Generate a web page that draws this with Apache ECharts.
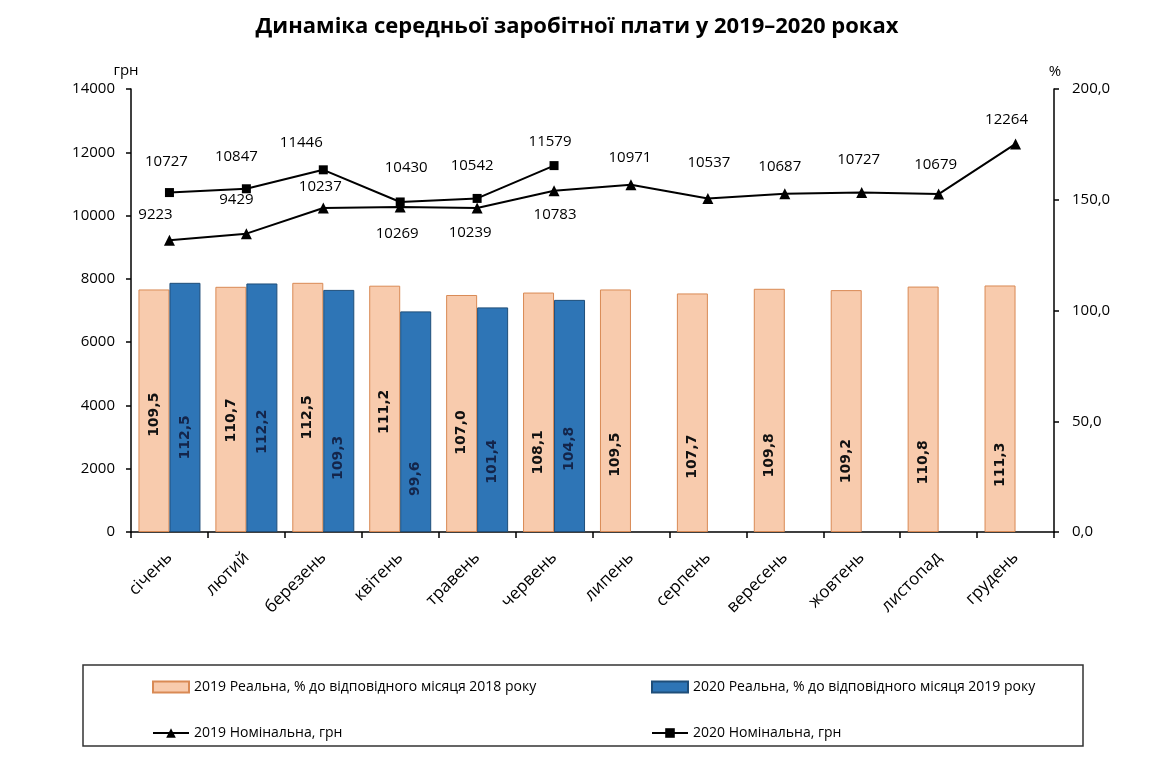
<!DOCTYPE html>
<html>
<head>
<meta charset="utf-8">
<script src="https://cdn.jsdelivr.net/npm/echarts@6/dist/echarts.min.js"></script>
<style>
  html, body { margin: 0; padding: 0; background: #fff; }
  #chart { width: 1154px; height: 764px; }
</style>
</head>
<body>
<div id="chart"></div>
<script>
// ---- data ----
const titleText = 'Динаміка середньої заробітної плати у 2019–2020 роках';
const months = ['січень','лютий','березень','квітень','травень','червень','липень','серпень','вересень','жовтень','листопад','грудень'];
const real2019 = [109.5, 110.7, 112.5, 111.2, 107.0, 108.1, 109.5, 107.7, 109.8, 109.2, 110.8, 111.3];
const real2020 = [112.5, 112.2, 109.3, 99.6, 101.4, 104.8, null, null, null, null, null, null];
const nominal2019 = [9223, 9429, 10237, 10269, 10239, 10783, 10971, 10537, 10687, 10727, 10679, 12264];
const nominal2020 = [10727, 10847, 11446, 10430, 10542, 11579, null, null, null, null, null, null];
const seriesNames = [
  '2019 Реальна, % до відповідного місяця 2018 року',
  '2020 Реальна, % до відповідного місяця 2019 року',
  '2019 Номінальна, грн',
  '2020 Номінальна, грн'
];
const leftAxis = { min: 0, max: 14000, interval: 2000, unit: 'грн' };
const rightAxis = { min: 0, max: 200, interval: 50, unit: '%' };

// ---- layout (label placement, px) ----
const barLblDy2019 = [4, 11, 10, 3, 19, 40, 44, 44, 45, 50, 53, 56];
const barLblDy2020 = [30, 24, 47, 57, 42, 33];
const lineLbl2019 = [[-14,-25],[-10,-34],[-3,-21],[-3,27],[-7,25],[1,24],[-1,-27],[1,-36],[-5,-27],[-3,-33],[-3,-29],[-9,-24]];
const lineLbl2020 = [[-3,-31],[-10,-32],[-22,-27],[6,-34],[-5,-33],[-4,-24]];

const FONT = '"Open Sans", "Noto Sans", sans-serif';
const fmtPct = v => v.toFixed(1).replace('.', ',');

// label is rotated 90deg: local -x points down on screen
function barData(vals, dys) {
  return vals.map((v, i) => v == null ? null : ({ value: v, label: { offset: [-(dys[i] || 0), 0] } }));
}
function lineData(vals, offs) {
  return vals.map((v, i) => v == null ? null : ({ value: v, label: { offset: offs[i] } }));
}

const chart = echarts.init(document.getElementById('chart'), null, { renderer: 'canvas' });

const legendBase = {
  orient: 'horizontal', padding: 0, itemWidth: 36, itemHeight: 11,
  textStyle: { fontFamily: FONT, fontSize: 14, color: '#000' },
  selectedMode: false
};

chart.setOption({
  backgroundColor: '#fff',
  animation: false,
  title: {
    text: titleText, left: 'center', top: 11,
    textStyle: { fontFamily: FONT, fontWeight: 'bold', fontSize: 22, color: '#000' }
  },
  grid: { left: 131, right: 100, top: 89, bottom: 232 },
  legend: [
    Object.assign({}, legendBase, { data: [{ name: seriesNames[0], icon: 'rect' }], left: 152, top: 680 }),
    Object.assign({}, legendBase, { data: [{ name: seriesNames[1], icon: 'rect' }], left: 651, top: 680 }),
    Object.assign({}, legendBase, { data: [seriesNames[2]], left: 152, top: 726, itemHeight: 12 }),
    Object.assign({}, legendBase, { data: [seriesNames[3]], left: 651, top: 726, itemHeight: 12 })
  ],
  graphic: [
    { type: 'rect', shape: { x: 83, y: 665, width: 1000, height: 81 },
      style: { fill: 'none', stroke: '#333', lineWidth: 1.5 }, silent: true },
    { type: 'text', x: 126, y: 71, style: { text: leftAxis.unit, fontFamily: FONT, fontSize: 15, fill: '#000', align: 'center', verticalAlign: 'middle' } },
    { type: 'text', x: 1055, y: 72, style: { text: rightAxis.unit, fontFamily: FONT, fontSize: 15, fill: '#000', align: 'center', verticalAlign: 'middle' } }
  ],
  xAxis: {
    type: 'category', data: months, boundaryGap: true,
    axisLine: { lineStyle: { color: '#000', width: 1.5 } },
    axisTick: { show: true, length: 6, lineStyle: { color: '#000', width: 1.5 } },
    axisLabel: { rotate: 45, margin: 23, fontFamily: FONT, fontSize: 17, color: '#000', interval: 0 }
  },
  yAxis: [
    {
      type: 'value', min: leftAxis.min, max: leftAxis.max, interval: leftAxis.interval,
      position: 'left',
      axisLine: { show: true, lineStyle: { color: '#000', width: 1.5 } },
      axisTick: { show: true, length: 5, lineStyle: { color: '#000', width: 1.5 } },
      splitLine: { show: false },
      axisLabel: { margin: 16, fontFamily: FONT, fontSize: 15, color: '#000', formatter: v => String(v) }
    },
    {
      type: 'value', min: rightAxis.min, max: rightAxis.max, interval: rightAxis.interval,
      position: 'right',
      axisLine: { show: true, lineStyle: { color: '#000', width: 1.5 } },
      axisTick: { show: true, length: 5, lineStyle: { color: '#000', width: 1.5 } },
      splitLine: { show: false },
      axisLabel: { margin: 18, fontFamily: FONT, fontSize: 15, color: '#000', formatter: v => fmtPct(v) }
    }
  ],
  series: [
    {
      name: seriesNames[0], type: 'bar', yAxisIndex: 1, barWidth: 31, barGap: '0%',
      itemStyle: { color: '#F8CBAD', borderColor: '#D98A55', borderWidth: 1 },
      label: { show: true, position: 'inside', rotate: 90, fontFamily: '"DejaVu Sans", sans-serif', fontWeight: 'bold', fontSize: 14, color: '#111', textBorderWidth: 0, formatter: p => fmtPct(p.value) },
      data: barData(real2019, barLblDy2019), z: 2
    },
    {
      name: seriesNames[1], type: 'bar', yAxisIndex: 1, barWidth: 31, barGap: '0%',
      itemStyle: { color: '#2E75B6', borderColor: '#1F4E79', borderWidth: 1 },
      label: { show: true, position: 'inside', rotate: 90, fontFamily: '"DejaVu Sans", sans-serif', fontWeight: 'bold', fontSize: 14, color: '#14254a', textBorderWidth: 0, formatter: p => fmtPct(p.value) },
      data: barData(real2020, barLblDy2020), z: 2
    },
    {
      name: seriesNames[2], type: 'line', yAxisIndex: 0,
      symbol: 'triangle', symbolSize: 11,
      lineStyle: { color: '#000', width: 2 }, itemStyle: { color: '#000' },
      label: { show: true, position: 'inside', fontFamily: FONT, fontSize: 15, color: '#000', textBorderWidth: 0 },
      data: lineData(nominal2019, lineLbl2019), z: 5
    },
    {
      name: seriesNames[3], type: 'line', yAxisIndex: 0,
      symbol: 'rect', symbolSize: 9,
      lineStyle: { color: '#000', width: 2 }, itemStyle: { color: '#000' },
      label: { show: true, position: 'inside', fontFamily: FONT, fontSize: 15, color: '#000', textBorderWidth: 0 },
      data: lineData(nominal2020, lineLbl2020), z: 5
    }
  ]
});
</script>
</body>
</html>
